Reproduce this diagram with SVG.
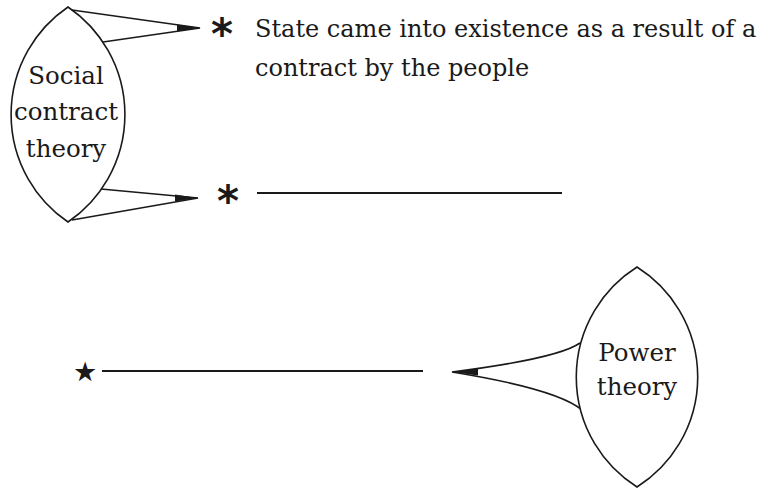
<svg xmlns="http://www.w3.org/2000/svg" width="769" height="488" viewBox="0 0 769 488">
<style>
.lens{fill:#fff;stroke:#1a1a1a;stroke-width:1.6}
.con{fill:none;stroke:#1a1a1a;stroke-width:1.6;stroke-linejoin:miter}
.head{fill:#1a1a1a;stroke:none}
.t{font-family:"DejaVu Serif","Liberation Serif",serif;font-size:24px;fill:#1a1a1a}
.lt{font-family:"DejaVu Serif","Liberation Serif",serif;font-size:24.5px;fill:#1a1a1a;text-anchor:middle}
.ast{font-family:"DejaVu Sans","Liberation Sans",sans-serif;font-weight:bold;font-size:42px;fill:#1a1a1a;text-anchor:middle}
.star{font-family:"DejaVu Sans","Liberation Sans",sans-serif;font-size:27px;fill:#1a1a1a;text-anchor:middle}
.rule{stroke:#1a1a1a;stroke-width:2}
</style>
<rect width="769" height="488" fill="#fff"/>
<g id="connectors">
<path class="con" d="M72,10 L200,28 L103,42"/>
<polygon class="head" points="177,24.5 200,28 177,31.5"/>
<path class="con" d="M101,189 L198,198 L72,220"/>
<polygon class="head" points="175,194.5 198,198 175,201.5"/>
<path class="con" d="M580,343 Q558,358.5 452,372 Q557,389 582,410"/>
<polygon class="head" points="452,372 478,368.5 478,375.5"/>
</g>
<g id="social-contract-theory">
<path class="lens" d="M68,7 A130,130 0 0 0 68,222 A130,130 0 0 0 68,7 Z"/>
<text class="lt" x="66" y="84">Social</text>
<text class="lt" x="66" y="120">contract</text>
<text class="lt" x="66" y="157">theory</text>
</g>
<g id="point-1">
<text class="ast" x="222" y="49">*</text>
<text class="t" x="255" y="37">State came into existence as a result of a</text>
<text class="t" x="255" y="76">contract by the people</text>
</g>
<g id="point-2">
<text class="ast" x="228" y="216">*</text>
<line class="rule" x1="257" y1="193" x2="562" y2="193"/>
</g>
<g id="power-theory">
<path class="lens" d="M637,267 A130,130 0 0 0 637,487 A130,130 0 0 0 637,267 Z"/>
<text class="lt" x="637" y="361">Power</text>
<text class="lt" x="637" y="395">theory</text>
</g>
<g id="point-3">
<text class="star" x="85" y="381">★</text>
<line class="rule" x1="102" y1="371" x2="423" y2="371"/>
</g>
</svg>
